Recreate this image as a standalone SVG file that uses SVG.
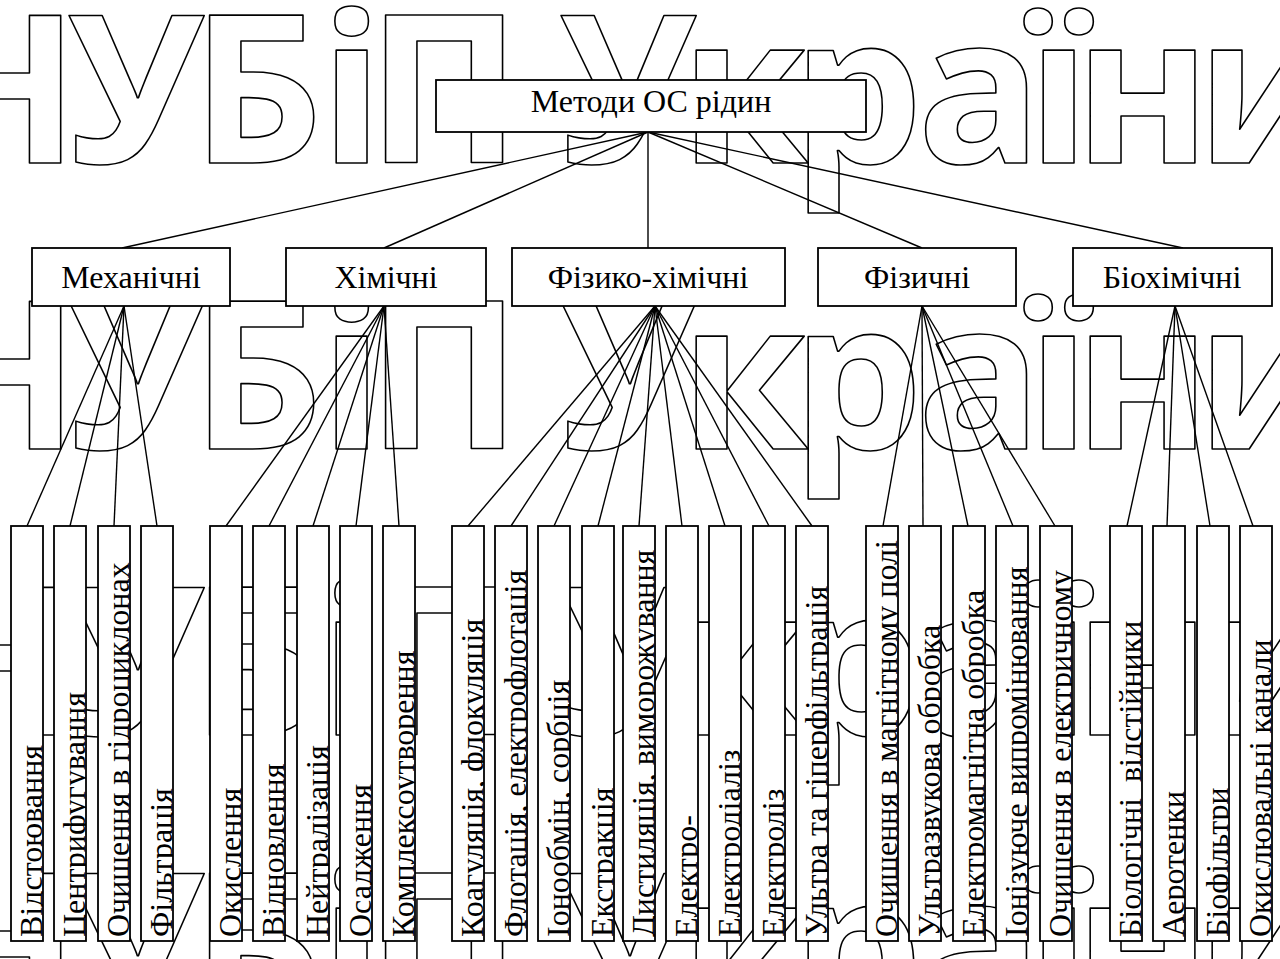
<svg xmlns="http://www.w3.org/2000/svg" width="1280" height="959" viewBox="0 0 1280 959">
<style>
.wm{font-family:"Open Sans",sans-serif;font-weight:700;font-size:207px;fill:none;stroke:#000;stroke-width:1.6;stroke-linejoin:round}
.box{fill:#fff;stroke:#000;stroke-width:1.8}
.lbl{font-family:"Liberation Serif","Times New Roman",serif;font-size:32px;fill:#000}
.c{text-anchor:middle}
#connectors line{stroke:#000;stroke-width:1.4}
</style>
<defs>
<clipPath id="leafclip" clipPathUnits="userSpaceOnUse">
<rect x="11" y="526" width="32" height="415"/><rect x="54" y="526" width="32" height="415"/><rect x="98" y="526" width="32" height="415"/><rect x="141" y="526" width="32" height="415"/><rect x="210" y="526" width="32" height="415"/><rect x="253" y="526" width="32" height="415"/><rect x="297" y="526" width="32" height="415"/><rect x="340" y="526" width="32" height="415"/><rect x="383" y="526" width="32" height="415"/><rect x="452" y="526" width="32" height="415"/><rect x="495" y="526" width="32" height="415"/><rect x="538" y="526" width="32" height="415"/><rect x="582" y="526" width="32" height="415"/><rect x="623" y="526" width="32" height="415"/><rect x="666" y="526" width="32" height="415"/><rect x="709" y="526" width="32" height="415"/><rect x="753" y="526" width="32" height="415"/><rect x="796" y="526" width="32" height="415"/><rect x="866" y="526" width="32" height="415"/><rect x="909" y="526" width="32" height="415"/><rect x="953" y="526" width="32" height="415"/><rect x="996" y="526" width="32" height="415"/><rect x="1040" y="526" width="32" height="415"/><rect x="1110" y="526" width="32" height="415"/><rect x="1153" y="526" width="32" height="415"/><rect x="1197" y="526" width="32" height="415"/><rect x="1240" y="526" width="32" height="415"/>
</clipPath>
</defs>
<rect width="1280" height="959" fill="#fff"/>
<g id="watermark">
<text class="wm" x="-79 67 191 320 367 470 559 680 792 917 1027 1074 1196" y="163">НУБіП України</text>
<text class="wm" x="-79 67 191 320 367 470 559 680 792 917 1027 1074 1196" y="449">НУБіП України</text>
<text class="wm" x="-79 67 191 320 367 470 559 680 792 917 1027 1074 1196" y="735">НУБіП України</text>
<text class="wm" x="-79 67 191 320 367 470 559 680 792 917 1027 1074 1196" y="1021">НУБіП України</text>
</g>
<g id="connectors">
<line x1="648" y1="132" x2="122" y2="248"/>
<line x1="648" y1="132" x2="384" y2="248"/>
<line x1="648" y1="132" x2="648" y2="248"/>
<line x1="648" y1="132" x2="922" y2="248"/>
<line x1="648" y1="132" x2="1183" y2="248"/>
<line x1="124" y1="306" x2="27" y2="526"/>
<line x1="124" y1="306" x2="70" y2="526"/>
<line x1="124" y1="306" x2="114" y2="526"/>
<line x1="124" y1="306" x2="157" y2="526"/>
<line x1="384" y1="306" x2="226" y2="526"/>
<line x1="384" y1="306" x2="269" y2="526"/>
<line x1="384" y1="306" x2="313" y2="526"/>
<line x1="384" y1="306" x2="356" y2="526"/>
<line x1="384" y1="306" x2="399" y2="526"/>
<line x1="655" y1="306" x2="468" y2="526"/>
<line x1="655" y1="306" x2="511" y2="526"/>
<line x1="655" y1="306" x2="554" y2="526"/>
<line x1="655" y1="306" x2="598" y2="526"/>
<line x1="655" y1="306" x2="639" y2="526"/>
<line x1="655" y1="306" x2="682" y2="526"/>
<line x1="655" y1="306" x2="725" y2="526"/>
<line x1="655" y1="306" x2="769" y2="526"/>
<line x1="655" y1="306" x2="812" y2="526"/>
<line x1="922" y1="306" x2="883" y2="526"/>
<line x1="922" y1="306" x2="923" y2="526"/>
<line x1="922" y1="306" x2="968" y2="526"/>
<line x1="922" y1="306" x2="1013" y2="526"/>
<line x1="922" y1="306" x2="1055" y2="526"/>
<line x1="1175" y1="306" x2="1127" y2="526"/>
<line x1="1175" y1="306" x2="1167" y2="526"/>
<line x1="1175" y1="306" x2="1210" y2="526"/>
<line x1="1175" y1="306" x2="1253" y2="526"/>
</g>
<g id="root"><rect class="box" x="436" y="80" width="430" height="52"/><text class="lbl c" x="651" y="112">Методи ОС рідин</text></g>
<g id="mech"><rect class="box" x="32" y="248" width="198" height="58"/><text class="lbl c" x="131" y="288">Механічні</text></g>
<g id="chem"><rect class="box" x="286" y="248" width="200" height="58"/><text class="lbl c" x="386" y="288">Хімічні</text></g>
<g id="physchem"><rect class="box" x="512" y="248" width="273" height="58"/><text class="lbl c" x="648" y="288">Фізико-хімічні</text></g>
<g id="phys"><rect class="box" x="818" y="248" width="198" height="58"/><text class="lbl c" x="917" y="288">Фізичні</text></g>
<g id="bio"><rect class="box" x="1073" y="248" width="199" height="58"/><text class="lbl c" x="1172" y="288">Біохімічні</text></g>
<g id="leaves">
<g id="l1"><rect class="box" x="11" y="526" width="32" height="415"/></g>
<g id="l2"><rect class="box" x="54" y="526" width="32" height="415"/></g>
<g id="l3"><rect class="box" x="98" y="526" width="32" height="415"/></g>
<g id="l4"><rect class="box" x="141" y="526" width="32" height="415"/></g>
<g id="l5"><rect class="box" x="210" y="526" width="32" height="415"/></g>
<g id="l6"><rect class="box" x="253" y="526" width="32" height="415"/></g>
<g id="l7"><rect class="box" x="297" y="526" width="32" height="415"/></g>
<g id="l8"><rect class="box" x="340" y="526" width="32" height="415"/></g>
<g id="l9"><rect class="box" x="383" y="526" width="32" height="415"/></g>
<g id="l10"><rect class="box" x="452" y="526" width="32" height="415"/></g>
<g id="l11"><rect class="box" x="495" y="526" width="32" height="415"/></g>
<g id="l12"><rect class="box" x="538" y="526" width="32" height="415"/></g>
<g id="l13"><rect class="box" x="582" y="526" width="32" height="415"/></g>
<g id="l14"><rect class="box" x="623" y="526" width="32" height="415"/></g>
<g id="l15"><rect class="box" x="666" y="526" width="32" height="415"/></g>
<g id="l16"><rect class="box" x="709" y="526" width="32" height="415"/></g>
<g id="l17"><rect class="box" x="753" y="526" width="32" height="415"/></g>
<g id="l18"><rect class="box" x="796" y="526" width="32" height="415"/></g>
<g id="l19"><rect class="box" x="866" y="526" width="32" height="415"/></g>
<g id="l20"><rect class="box" x="909" y="526" width="32" height="415"/></g>
<g id="l21"><rect class="box" x="953" y="526" width="32" height="415"/></g>
<g id="l22"><rect class="box" x="996" y="526" width="32" height="415"/></g>
<g id="l23"><rect class="box" x="1040" y="526" width="32" height="415"/></g>
<g id="l24"><rect class="box" x="1110" y="526" width="32" height="415"/></g>
<g id="l25"><rect class="box" x="1153" y="526" width="32" height="415"/></g>
<g id="l26"><rect class="box" x="1197" y="526" width="32" height="415"/></g>
<g id="l27"><rect class="box" x="1240" y="526" width="32" height="415"/></g>
</g>
<g id="leaf-labels" clip-path="url(#leafclip)">
<text class="lbl" transform="translate(42 937) rotate(-90)">Відстоювання</text>
<text class="lbl" transform="translate(85 937) rotate(-90)">Центрифугування</text>
<text class="lbl" transform="translate(129 937) rotate(-90)">Очищення в гідроциклонах</text>
<text class="lbl" transform="translate(172 937) rotate(-90)">Фільтрація</text>
<text class="lbl" transform="translate(241 937) rotate(-90)">Окислення</text>
<text class="lbl" transform="translate(284 937) rotate(-90)">Відновлення</text>
<text class="lbl" transform="translate(328 937) rotate(-90)">Нейтралізація</text>
<text class="lbl" transform="translate(371 937) rotate(-90)">Осадження</text>
<text class="lbl" transform="translate(414 937) rotate(-90)">Комплексоутворення</text>
<text class="lbl" transform="translate(483 937) rotate(-90)">Коагуляція, флокуляція</text>
<text class="lbl" transform="translate(526 937) rotate(-90)">Флотація, електрофлотація</text>
<text class="lbl" transform="translate(569 937) rotate(-90)">Іонообмін, сорбція</text>
<text class="lbl" transform="translate(613 937) rotate(-90)">Екстракція</text>
<text class="lbl" transform="translate(654 937) rotate(-90)">Дистиляція, виморожування</text>
<text class="lbl" transform="translate(697 937) rotate(-90)">Електро-</text>
<text class="lbl" transform="translate(740 937) rotate(-90)">Електродіаліз</text>
<text class="lbl" transform="translate(784 937) rotate(-90)">Електроліз</text>
<text class="lbl" transform="translate(827 937) rotate(-90)">Ультра та гіперфільтрація</text>
<text class="lbl" transform="translate(897 937) rotate(-90)">Очищення в магнітному полі</text>
<text class="lbl" transform="translate(940 937) rotate(-90)">Ультразвукова обробка</text>
<text class="lbl" transform="translate(984 937) rotate(-90)">Електромагнітна обробка</text>
<text class="lbl" transform="translate(1027 937) rotate(-90)">Іонізуюче випромінювання</text>
<text class="lbl" transform="translate(1071 937) rotate(-90)">Очищення в електричному</text>
<text class="lbl" transform="translate(1141 937) rotate(-90)" xml:space="preserve">Біологічні  відстійники</text>
<text class="lbl" transform="translate(1184 937) rotate(-90)">Аеротенки</text>
<text class="lbl" transform="translate(1228 937) rotate(-90)">Біофільтри</text>
<text class="lbl" transform="translate(1271 937) rotate(-90)">Окислювальні канали</text>
</g>
</svg>
